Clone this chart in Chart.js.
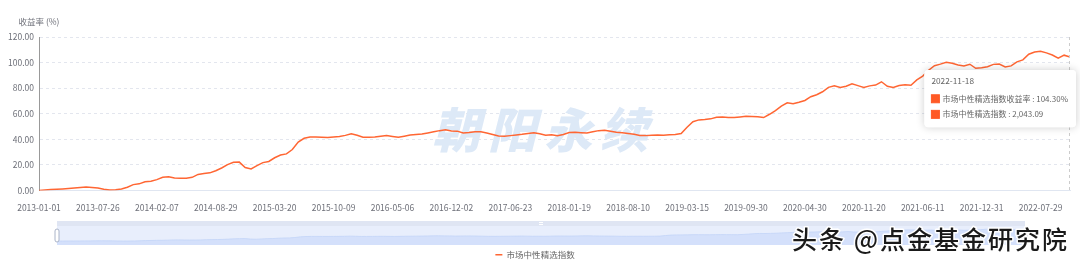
<!DOCTYPE html>
<html>
<head>
<meta charset="utf-8">
<script src="https://cdn.jsdelivr.net/npm/chart.js@4/dist/chart.umd.min.js"></script>
<style>
  html, body { margin: 0; padding: 0; background: #fff; overflow: hidden; }
  #wrap { position: relative; width: 1080px; height: 265px; overflow: hidden; }
  #main, #zoom { position: absolute; left: 0; top: 0; }
  #zoom { pointer-events: none; }
</style>
</head>
<body>
<div id="wrap">
  <canvas id="main" width="1080" height="269"></canvas>
  <canvas id="zoom" width="1080" height="265"></canvas>
</div>
<script>
const tickLabels = [
  '2013-01-01', '2013-07-26', '2014-02-07', '2014-08-29', '2015-03-20', '2015-10-09',
  '2016-05-06', '2016-12-02', '2017-06-23', '2018-01-19', '2018-08-10', '2019-03-15',
  '2019-09-30', '2020-04-30', '2020-11-20', '2021-06-11', '2021-12-31', '2022-07-29'
];
const lastDate = '2022-11-18';
const seriesName = '市场中性精选指数';
const lastIndexLevel = 2043.09;

// 收益率 (%), 10 points per tick interval
const returns = [
  0.0, 0.4, 0.8, 1.0, 1.2, 1.5, 1.9, 2.4, 2.7, 2.4,
  2.0, 1.0, 0.4, 0.6, 1.2, 2.6, 4.6, 5.2, 6.9, 7.3,
  8.5, 10.3, 10.8, 9.8, 9.5, 9.6, 10.3, 12.6, 13.2, 13.8,
  15.4, 17.6, 20.2, 22.0, 22.2, 18.0, 16.8, 19.4, 21.8, 22.7,
  25.6, 27.7, 28.6, 32.0, 37.9, 40.8, 41.9, 41.8, 41.6, 41.5,
  41.8, 42.2, 43.1, 44.4, 43.2, 41.6, 41.7, 41.9, 42.5, 43.0,
  42.3, 41.6, 42.4, 43.3, 43.8, 44.2, 45.0, 45.9, 46.8, 47.5,
  46.6, 46.4, 44.9, 45.3, 46.0, 45.9, 45.0, 43.8, 42.6, 42.4,
  42.9, 43.4, 43.9, 44.6, 45.2, 44.3, 43.2, 43.5, 42.9, 43.8,
  45.3, 45.5, 45.2, 45.0, 45.9, 46.8, 47.1, 46.3, 45.5, 45.1,
  44.6, 43.9, 43.0, 42.9, 43.2, 43.4, 43.2, 43.5, 43.7, 44.6,
  49.5, 53.8, 55.2, 55.5, 56.0, 57.3, 57.4, 57.1, 57.0, 57.5,
  58.0, 57.8, 57.6, 57.0, 59.6, 62.5, 66.0, 68.5, 67.8, 69.0,
  70.4, 73.3, 74.9, 77.2, 80.6, 81.8, 80.6, 81.5, 83.4, 82.0,
  80.5, 81.8, 82.4, 85.0, 81.5, 80.5, 82.0, 82.6, 82.3, 86.5,
  89.4, 94.0, 97.6, 98.8, 100.2, 99.4, 98.1, 97.4, 98.7, 95.5,
  95.9, 96.8, 98.6, 98.9, 96.6, 97.4, 100.6, 102.1, 106.5, 108.2,
  108.9, 107.6, 105.9, 103.4, 105.8, 104.3
];

const FONT = '"Noto Sans CJK SC", "Noto Sans", sans-serif';
const lineColor = '#ff6633';
const boxColor = '#ff5a26';
const last = returns.length - 1;

Chart.defaults.font.family = FONT;
Chart.defaults.color = '#6e7079';

Chart.Tooltip.positioners.corner = function () {
  const a = this.chart.chartArea;
  return { x: a.right + 2, y: a.top + 33 };
};

const mainDecor = {
  id: 'mainDecor',
  beforeDatasetsDraw(chart) {
    const { ctx } = chart;
    ctx.save();
    ctx.font = 'italic 900 48px ' + FONT;
    ctx.fillStyle = '#dde9f7';
    ctx.textAlign = 'center';
    ctx.textBaseline = 'middle';
    ctx.letterSpacing = '8px';
    ctx.fillText('朝阳永续', 544, 130);
    ctx.restore();
  },
  afterDatasetsDraw(chart) {
    const { ctx, chartArea: a, scales: { x } } = chart;
    const px = Math.round(x.getPixelForValue(last)) - 0.5;
    ctx.save();
    ctx.strokeStyle = '#cccccc';
    ctx.lineWidth = 1;
    ctx.setLineDash([3, 3]);
    ctx.beginPath();
    ctx.moveTo(px, a.top);
    ctx.lineTo(px, a.bottom);
    ctx.stroke();
    ctx.restore();
  },
  afterDraw(chart) {
    const { ctx, chartArea: a } = chart;
    ctx.save();
    ctx.font = '8.5px ' + FONT;
    ctx.fillStyle = '#6e7079';
    ctx.textAlign = 'center';
    ctx.textBaseline = 'middle';
    ctx.fillText('收益率 (%)', a.left, 22);
    ctx.restore();
  },
  beforeTooltipDraw(chart, args) {
    const t = args.tooltip;
    const { ctx } = chart;
    ctx.save();
    ctx.shadowColor = 'rgba(0,0,0,0.2)';
    ctx.shadowBlur = 8;
    ctx.fillStyle = '#fff';
    ctx.beginPath();
    ctx.roundRect(t.x, t.y, t.width, t.height, 4);
    ctx.fill();
    ctx.restore();
  }
};

const mainChart = new Chart(document.getElementById('main'), {
  type: 'line',
  data: {
    datasets: [
      {
        label: seriesName,
        data: returns.map((v, i) => ({ x: i, y: v })),
        borderColor: lineColor,
        backgroundColor: lineColor,
        borderWidth: 1.5,
        pointRadius: 0,
        pointHoverRadius: 0,
        tension: 0,
        yAxisID: 'y'
      },
      {
        label: seriesName,
        data: [{ x: last, y: lastIndexLevel }],
        showLine: false,
        pointRadius: 0,
        pointHoverRadius: 0,
        borderColor: lineColor,
        backgroundColor: lineColor,
        yAxisID: 'y2'
      }
    ]
  },
  options: {
    responsive: false,
    animation: false,
    events: [],
    layout: { padding: { left: 0, right: 10, top: 37, bottom: 0 } },
    scales: {
      x: {
        type: 'linear',
        min: 0,
        max: last,
        grid: { display: false },
        border: { color: '#e0e6f1' },
        ticks: {
          stepSize: 10,
          includeBounds: false,
          autoSkip: false,
          maxRotation: 0,
          padding: 4,
          font: { size: 8.5 },
          callback: v => tickLabels[v / 10] ?? ''
        },
        afterFit: s => { s.height = 50; }
      },
      y: {
        min: 0,
        max: 120,
        grid: {
          drawTicks: false,
          color: c => (c.tick && c.tick.value === 0) ? 'rgba(0,0,0,0)' : '#e3e6ee'
        },
        border: { display: true, color: '#999', dash: [3, 3] },
        ticks: {
          stepSize: 20,
          padding: 5,
          font: { size: 8.5 },
          callback: v => v.toFixed(2)
        },
        afterFit: s => { s.width = 39; }
      },
      y2: { display: false }
    },
    plugins: {
      legend: {
        position: 'bottom',
        labels: {
          filter: it => it.datasetIndex === 0,
          usePointStyle: true,
          pointStyle: 'line',
          pointStyleWidth: 7,
          padding: 10,
          color: '#666',
          font: { size: 8.5 }
        }
      },
      tooltip: {
        position: 'corner',
        xAlign: 'right',
        yAlign: 'top',
        caretSize: 0,
        caretPadding: 0,
        cornerRadius: 4,
        backgroundColor: '#fff',
        borderWidth: 0,
        titleColor: '#666',
        bodyColor: '#666',
        titleFont: { size: 8.3, weight: 'normal' },
        bodyFont: { size: 8 },
        padding: { top: 6, bottom: 8, left: 7, right: 8 },
        titleMarginBottom: 8,
        bodySpacing: 6,
        boxWidth: 8,
        boxHeight: 8,
        boxPadding: 1,
        multiKeyBackground: boxColor,
        callbacks: {
          title: items => {
            const i = items[0].parsed.x;
            return i === last ? lastDate : (tickLabels[i / 10] || '');
          },
          label: item => item.datasetIndex === 0
            ? seriesName + '收益率 : ' + item.parsed.y.toFixed(2) + '%'
            : seriesName + ' : ' + item.parsed.y.toLocaleString('en-US', { minimumFractionDigits: 2, maximumFractionDigits: 2 }),
          labelColor: () => ({ borderColor: boxColor, backgroundColor: boxColor })
        }
      }
    }
  },
  plugins: [mainDecor]
});

mainChart.tooltip.setActiveElements(
  [{ datasetIndex: 0, index: last }, { datasetIndex: 1, index: 0 }],
  { x: mainChart.scales.x.getPixelForValue(last), y: mainChart.scales.y.getPixelForValue(returns[last]) }
);
mainChart.update();

// data zoom slider
const sliderLeft = 57;
const sliderRight = 1025;

const sliderDecor = {
  id: 'sliderDecor',
  beforeDraw(chart) {
    const { ctx, chartArea: a } = chart;
    ctx.save();
    ctx.fillStyle = '#dfe5f3';
    ctx.fillRect(a.left, a.top - 5, a.width, 5);
    ctx.fillStyle = '#e8eefc';
    ctx.fillRect(a.left, a.top, a.width, a.height);
    ctx.restore();
  },
  afterDraw(chart) {
    const { ctx, chartArea: a } = chart;
    ctx.save();
    // move handle icon
    const cx = (a.left + a.right) / 2;
    ctx.strokeStyle = '#ffffff';
    ctx.lineWidth = 1;
    ctx.beginPath();
    ctx.moveTo(cx - 2, a.top - 3.5); ctx.lineTo(cx + 2, a.top - 3.5);
    ctx.moveTo(cx - 2, a.top - 1.5); ctx.lineTo(cx + 2, a.top - 1.5);
    ctx.stroke();
    // handles
    [a.left, a.right].forEach(hx => {
      ctx.fillStyle = '#fff';
      ctx.strokeStyle = '#aab4c8';
      ctx.beginPath();
      ctx.roundRect(hx - 2, a.top + 3, 4, 13, 2);
      ctx.fill();
      ctx.stroke();
    });
    // source watermark
    ctx.font = '500 25px ' + FONT;
    ctx.letterSpacing = '2px';
    ctx.textAlign = 'left';
    ctx.textBaseline = 'middle';
    ctx.lineJoin = 'round';
    ctx.lineWidth = 3;
    ctx.strokeStyle = '#fff';
    ctx.strokeText('头条 @点金基金研究院', 792, 239);
    ctx.fillStyle = '#1a1a1a';
    ctx.fillText('头条 @点金基金研究院', 792, 239);
    ctx.restore();
  }
};

new Chart(document.getElementById('zoom'), {
  type: 'line',
  data: {
    datasets: [{
      data: returns.map((v, i) => ({ x: i, y: v })),
      borderColor: '#c3d4f7',
      borderWidth: 0.8,
      backgroundColor: '#d4e0fb',
      fill: 'start',
      pointRadius: 0,
      tension: 0
    }]
  },
  options: {
    responsive: false,
    animation: false,
    events: [],
    layout: { padding: { left: sliderLeft, right: 1080 - sliderRight, top: 226, bottom: 20 } },
    scales: {
      x: { type: 'linear', display: false, min: 0, max: last },
      y: { display: false, min: -35, max: 135 }
    },
    plugins: { legend: { display: false }, tooltip: { enabled: false } }
  },
  plugins: [sliderDecor]
});
</script>
</body>
</html>
